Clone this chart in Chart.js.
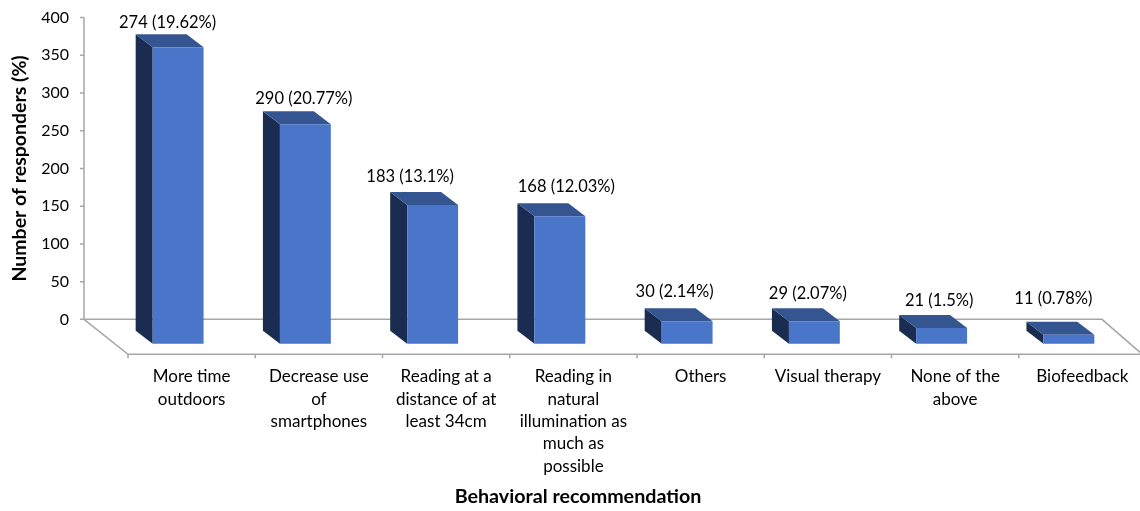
<!DOCTYPE html>
<html>
<head>
<meta charset="utf-8">
<title>Behavioral recommendation</title>
<script src="https://cdn.jsdelivr.net/npm/chart.js@4"></script>
<style>
    html, body { margin: 0; padding: 0; background: #fff; overflow: hidden; }
    #wrap { width: 1140px; height: 511px; overflow: hidden; }
</style>
</head>
<body>
<div id="wrap"><canvas id="chart" width="1146" height="511"></canvas></div>
<script>
const categories = [
    ['More time', 'outdoors'],
    ['Decrease use', 'of', 'smartphones'],
    ['Reading at a', 'distance of at', 'least 34cm'],
    ['Reading in', 'natural', 'illumination as', 'much as', 'possible'],
    'Others',
    'Visual therapy',
    ['None of the', 'above'],
    'Biofeedback'
];
// bar heights as drawn; the first bar is taller than its printed label says
const barValues = [393, 291, 184, 169, 30, 30, 21, 12];
const barLabels = [
    '274 (19.62%)', '290 (20.77%)', '183 (13.1%)', '168 (12.03%)',
    '30 (2.14%)', '29 (2.07%)', '21 (1.5%)', '11 (0.78%)'
];
const yTicks = [0, 50, 100, 150, 200, 250, 300, 350, 400];

const FONT = "Lato, 'Open Sans', sans-serif";
const AXIS_GREY = '#a6a6a6';
const FRONT = '#4a76c9';
const TOP = '#34558f';
const SIDE = '#1a2d50';

// 3D look: front faces sit forward of the back wall
const FRONT_DX = -13.5;
const FRONT_DY = 24.5;
const DEPTH_X = 17;
const DEPTH_Y = 13;
const FLOOR_X = 44;
const FLOOR_Y = 35;

// hand placement of the value labels, relative to each bar
const labelNudge = [[-10, 1], [-1, 0], [-22, -3], [7, -4], [-12, -4], [-6, -2], [-2, -2], [-15, -11]];

function poly(ctx, pts, fill) {
    ctx.beginPath();
    pts.forEach((p, i) => (i ? ctx.lineTo(p[0], p[1]) : ctx.moveTo(p[0], p[1])));
    ctx.closePath();
    ctx.fillStyle = fill;
    ctx.fill();
}

const boxPlugin = {
    id: 'box3d',
    beforeDatasetsDraw(chart) {
        const { ctx, chartArea: a, scales: { x, y } } = chart;
        const backLeft = a.left - FLOOR_X;
        const floorY = a.bottom + FLOOR_Y;
        const step = x.getPixelForTick(1) - x.getPixelForTick(0);

        ctx.save();
        ctx.strokeStyle = AXIS_GREY;
        ctx.lineWidth = 1.5;
        ctx.beginPath();
        // back wall axis and floor outline
        ctx.moveTo(backLeft, a.top);
        ctx.lineTo(backLeft, a.bottom);
        ctx.lineTo(a.left, floorY);
        ctx.lineTo(a.right, floorY);
        ctx.moveTo(backLeft, a.bottom);
        ctx.lineTo(a.right - FLOOR_X, a.bottom);
        ctx.lineTo(a.right - 6, floorY - 2);
        // value axis ticks
        y.ticks.forEach((t, i) => {
            const py = y.getPixelForTick(i);
            ctx.moveTo(backLeft - 4, py);
            ctx.lineTo(backLeft, py);
        });
        // category ticks
        x.ticks.forEach((t, i) => {
            const px = x.getPixelForTick(i) - step / 2;
            ctx.moveTo(px, floorY);
            ctx.lineTo(px, floorY + 4);
        });
        ctx.stroke();
        ctx.restore();

        ctx.save();
        ctx.translate(FRONT_DX, FRONT_DY);
        chart.getDatasetMeta(0).data.forEach(bar => {
            const l = bar.x - bar.width / 2;
            const r = bar.x + bar.width / 2;
            poly(ctx, [[l, bar.y], [l - DEPTH_X, bar.y - DEPTH_Y], [l - DEPTH_X, bar.base - DEPTH_Y], [l, bar.base]], SIDE);
            poly(ctx, [[l, bar.y], [r, bar.y], [r - DEPTH_X, bar.y - DEPTH_Y], [l - DEPTH_X, bar.y - DEPTH_Y]], TOP);
        });
    },
    afterDatasetsDraw(chart) {
        const { ctx } = chart;
        ctx.restore();

        ctx.save();
        ctx.font = '16.5px ' + FONT;
        ctx.fillStyle = '#000';
        ctx.textAlign = 'center';
        ctx.textBaseline = 'middle';
        chart.getDatasetMeta(0).data.forEach((bar, i) => {
            ctx.fillText(barLabels[i], bar.x - 14 + labelNudge[i][0], bar.y - 1 + labelNudge[i][1]);
        });
        ctx.restore();
    }
};

new Chart(document.getElementById('chart'), {
    type: 'bar',
    data: {
        labels: categories,
        datasets: [{
            data: barValues,
            backgroundColor: FRONT,
            barPercentage: 0.4,
            categoryPercentage: 1,
            clip: false
        }]
    },
    options: {
        responsive: false,
        animation: false,
        layout: { padding: { left: 10, top: 17.5, right: 0, bottom: 0 } },
        plugins: {
            legend: { display: false },
            tooltip: { enabled: false },
            title: {
                display: true,
                position: 'bottom',
                fullSize: true,
                text: 'Behavioral recommendation',
                color: '#000',
                font: { family: FONT, size: 19.7, weight: 'bold' },
                padding: { top: 0, bottom: 3 }
            }
        },
        scales: {
            x: {
                grid: { display: false, drawTicks: false },
                border: { display: false },
                afterFit: s => {
                    s.height = 165;
                    s.paddingLeft = 0;
                    s.paddingRight = 0;
                },
                ticks: {
                    color: '#000',
                    autoSkip: false,
                    maxRotation: 0,
                    padding: 46,
                    font: { family: FONT, size: 17, lineHeight: 1.32 }
                }
            },
            y: {
                min: 0,
                max: 400,
                grid: { display: false, drawTicks: false },
                border: { display: false },
                afterFit: s => {
                    s.width = 118;
                    s.paddingTop = 0;
                    s.paddingBottom = 0;
                },
                afterBuildTicks: s => { s.ticks = yTicks.map(v => ({ value: v })); },
                ticks: {
                    color: '#000',
                    padding: 59,
                    font: { family: FONT, size: 16 }
                },
                title: {
                    display: true,
                    text: 'Number of responders (%)',
                    color: '#000',
                    font: { family: FONT, size: 19.5, weight: 'bold' },
                    padding: { top: -2, bottom: 0 }
                }
            }
        }
    },
    plugins: [boxPlugin]
});
</script>
</body>
</html>
